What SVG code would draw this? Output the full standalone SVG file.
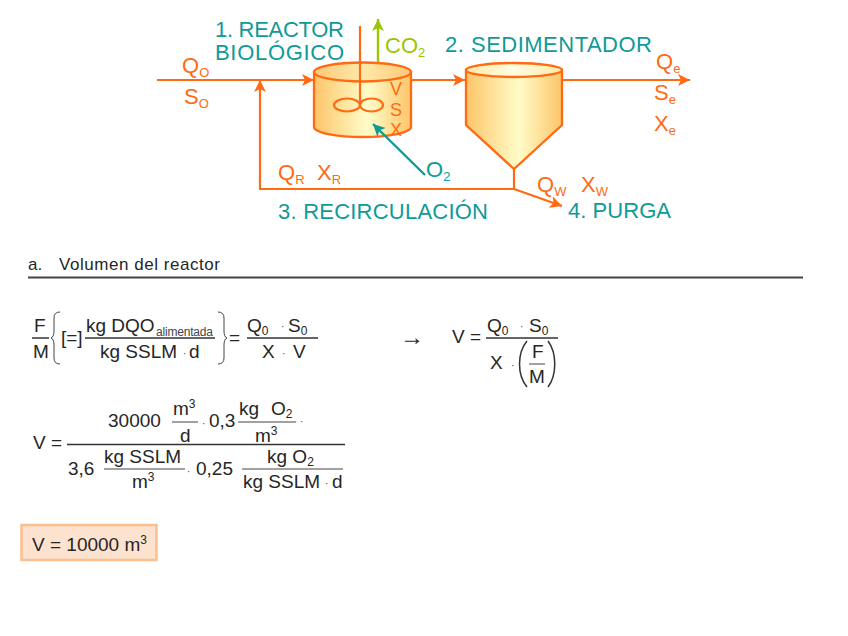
<svg xmlns="http://www.w3.org/2000/svg" width="848" height="636" viewBox="0 0 848 636">
<style>
text{font-family:"Liberation Sans",Arial,sans-serif}
.t{fill:#0f9a98;font-size:22px}
.o{fill:#ff6a13;font-size:22px}
.g{fill:#99c600;font-size:22px}
.v{fill:#ff6a13;font-size:18px}
.b{fill:#262626;font-size:19px}
.s{font-size:13px}
.n{font-size:12px}
.ln{fill:none;stroke:#ff6a13;stroke-width:2.200}
.tk{fill:url(#tank);stroke:#ff6a13;stroke-width:2.300}
.f{stroke:#444;stroke-width:1;fill:none}
.fb{stroke:#333;stroke-width:1.500;fill:none}
.d{fill:#444;font-size:10px}
</style>
<defs>
<linearGradient id="tank" x1="0" x2="1" y1="0" y2="0">
<stop offset="0" stop-color="#fdc56a"/><stop offset="0.55" stop-color="#fffcc8"/><stop offset="1" stop-color="#fdc56a"/>
</linearGradient>
<linearGradient id="lid" x1="0" x2="1" y1="0" y2="0">
<stop offset="0" stop-color="#fdc878"/><stop offset="0.5" stop-color="#ffe9a8"/><stop offset="1" stop-color="#fdc878"/>
</linearGradient>
<linearGradient id="lid2" x1="0" x2="1" y1="0" y2="0">
<stop offset="0" stop-color="#ffe9a8"/><stop offset="0.5" stop-color="#fffde0"/><stop offset="1" stop-color="#ffe9a8"/>
</linearGradient>
<marker id="ao" markerUnits="userSpaceOnUse" markerWidth="14" markerHeight="14" refX="12" refY="6" orient="auto"><path d="M0 0L12 6L0 12L3 6Z" fill="#ff6a13"/></marker>
<marker id="at" markerUnits="userSpaceOnUse" markerWidth="14" markerHeight="14" refX="12" refY="6" orient="auto"><path d="M0 0L12 6L0 12L3 6Z" fill="#0f9a98"/></marker>
<marker id="ag" markerUnits="userSpaceOnUse" markerWidth="14" markerHeight="14" refX="12" refY="6" orient="auto"><path d="M0 0L12 6L0 12L3 6Z" fill="#99c600"/></marker>
</defs>

<g id="reactor">
<path class="tk" d="M314 72V127A48.500 10 0 0 0 411 127V72Z"/>
<ellipse cx="362.500" cy="72" rx="48.500" ry="9.500" fill="url(#lid)" stroke="#ff6a13" stroke-width="2.300"/>
<ellipse class="ln" cx="347" cy="105" rx="13" ry="6.500"/>
<ellipse class="ln" cx="371.500" cy="105" rx="11.500" ry="6.500"/>
<text class="v" x="390" y="95">V</text>
<text class="v" x="390" y="115.500">S</text>
<text class="v" x="390" y="136">X</text>
</g>
<g id="sedimentador">
<path class="tk" d="M466 70V125L514 169L562 125V70Z"/>
<ellipse cx="514" cy="70" rx="48" ry="7" fill="url(#lid2)" stroke="#ff6a13" stroke-width="2.300"/>
</g>

<g id="connectors">
<path class="ln" d="M157 80H314" marker-end="url(#ao)"/>
<path class="ln" d="M260 190V80" marker-end="url(#ao)"/>
<path class="ln" d="M411 80H465" marker-end="url(#ao)"/>
<path class="ln" d="M562 80H690" marker-end="url(#ao)"/>
<path class="ln" d="M260 189H514V169"/>
<path class="ln" d="M514 189L562 206" marker-end="url(#ao)"/>
<path class="ln" d="M360 26V105"/>
<path d="M378 62V19" fill="none" stroke="#99c600" stroke-width="2.400" marker-end="url(#ag)"/>
<path d="M425 175L373 124" fill="none" stroke="#0f9a98" stroke-width="2.400" marker-end="url(#at)"/>
</g>

<g id="labels">
<text class="t" x="215" y="37" textLength="129">1. REACTOR</text>
<text class="t" x="215" y="60" textLength="129">BIOLÓGICO</text>
<text class="g" x="385" y="53">CO<tspan class="s" dy="4">2</tspan></text>
<text class="t" x="445" y="52" textLength="207">2. SEDIMENTADOR</text>
<text class="t" x="278" y="219" textLength="210">3. RECIRCULACIÓN</text>
<text class="t" x="568" y="218" textLength="103">4. PURGA</text>
<text class="o" x="182" y="73">Q<tspan class="s" dy="4">O</tspan></text>
<text class="o" x="184" y="104">S<tspan class="s" dy="4">O</tspan></text>
<text class="o" x="278" y="180">Q<tspan class="s" dy="4">R</tspan></text>
<text class="o" x="317" y="180">X<tspan class="s" dy="4">R</tspan></text>
<text class="t" x="426" y="177">O<tspan class="s" dy="4">2</tspan></text>
<text class="o" x="656" y="69">Q<tspan class="s" dy="4">e</tspan></text>
<text class="o" x="654" y="100">S<tspan class="s" dy="4">e</tspan></text>
<text class="o" x="654" y="131">X<tspan class="s" dy="4">e</tspan></text>
<text class="o" x="537" y="192">Q<tspan class="s" dy="4">W</tspan></text>
<text class="o" x="581" y="192">X<tspan class="s" dy="4">W</tspan></text>
</g>

<g id="heading">
<text class="b" x="28" y="270" style="font-size:17px">a.</text>
<text class="b" x="59" y="270" style="font-size:17px" textLength="161">Volumen del reactor</text>
<path d="M28 277.500H803" stroke="#444" stroke-width="1.800" fill="none"/>
</g>

<g id="eq1">
<text class="b" x="34" y="332">F</text>
<path class="fb" d="M32 338H49"/>
<text class="b" x="33" y="358">M</text>
<path class="f" d="M60 312Q54 312 54 318V331Q54 337 51 338Q54 339 54 345V358Q54 364 60 364"/>
<text class="b" x="61" y="344">[=]</text>
<text class="b" x="86" y="332">kg DQO</text>
<text class="n" x="156" y="336" textLength="57" style="fill:#444">alimentada</text>
<path class="fb" d="M85 338H215"/>
<text class="b" x="100" y="358">kg SSLM</text><text class="d" x="183" y="357">·</text><text class="b" x="189" y="358">d</text>
<path class="f" d="M218 312Q224 312 224 318V331Q224 337 227 338Q224 339 224 345V358Q224 364 218 364"/>
<text class="b" x="229" y="344">=</text>
<text class="b" x="247" y="332">Q<tspan class="n" dy="3">0</tspan></text><text class="d" x="281" y="330">·</text><text class="b" x="288" y="332">S<tspan class="n" dy="3">0</tspan></text>
<path class="fb" d="M247 338H318"/>
<text class="b" x="262" y="358">X</text><text class="d" x="282" y="357">·</text><text class="b" x="293" y="358">V</text>
</g>

<g id="eq2">
<text class="b" x="400" y="345" style="font-size:24px">→</text>
<text class="b" x="452" y="343">V =</text>
<text class="b" x="487" y="332">Q<tspan class="n" dy="3">0</tspan></text><text class="d" x="520" y="330">·</text><text class="b" x="529" y="332">S<tspan class="n" dy="3">0</tspan></text>
<path class="fb" d="M486 338H558"/>
<text class="b" x="490" y="369">X</text><text class="d" x="511" y="369">·</text>
<path class="fb" d="M527 341C517 353 517 375 527 387"/>
<text class="b" x="532" y="358">F</text>
<path class="f" d="M529 364H545"/>
<text class="b" x="529" y="383">M</text>
<path class="fb" d="M548 341C557 353 557 375 548 387"/>
</g>

<g id="eq3">
<text class="b" x="33" y="449">V =</text>
<text class="b" x="108" y="427">30000</text>
<text class="b" x="173" y="415">m<tspan class="n" dy="-7">3</tspan></text>
<path class="f" d="M172 422H198"/>
<text class="b" x="180" y="442">d</text>
<text class="d" x="202" y="427">·</text>
<text class="b" x="209" y="427">0,3</text>
<text class="b" x="239" y="415">kg</text>
<text class="b" x="271" y="415">O<tspan class="n" dy="3">2</tspan></text>
<path class="f" d="M238 422H296"/>
<text class="b" x="255" y="442">m<tspan class="n" dy="-7">3</tspan></text>
<text class="d" x="300" y="425">·</text>
<path class="fb" d="M67 444.500H345"/>
<text class="b" x="68" y="475">3,6</text>
<text class="b" x="104" y="463">kg SSLM</text>
<path class="f" d="M104 469H185"/>
<text class="b" x="132" y="488">m<tspan class="n" dy="-7">3</tspan></text>
<text class="d" x="187" y="475">·</text>
<text class="b" x="196" y="475">0,25</text>
<text class="b" x="267" y="463">kg O<tspan class="n" dy="3">2</tspan></text>
<path class="f" d="M242 469H343"/>
<text class="b" x="243" y="488">kg SSLM</text><text class="d" x="325" y="487">·</text><text class="b" x="332" y="488">d</text>
</g>

<g id="result">
<rect x="21.500" y="525" width="135" height="35" fill="#fde3cf" stroke="#fbbf8f" stroke-width="2.500"/>
<text class="b" x="32" y="551">V = 10000 m<tspan class="n" dy="-7">3</tspan></text>
</g>
</svg>
